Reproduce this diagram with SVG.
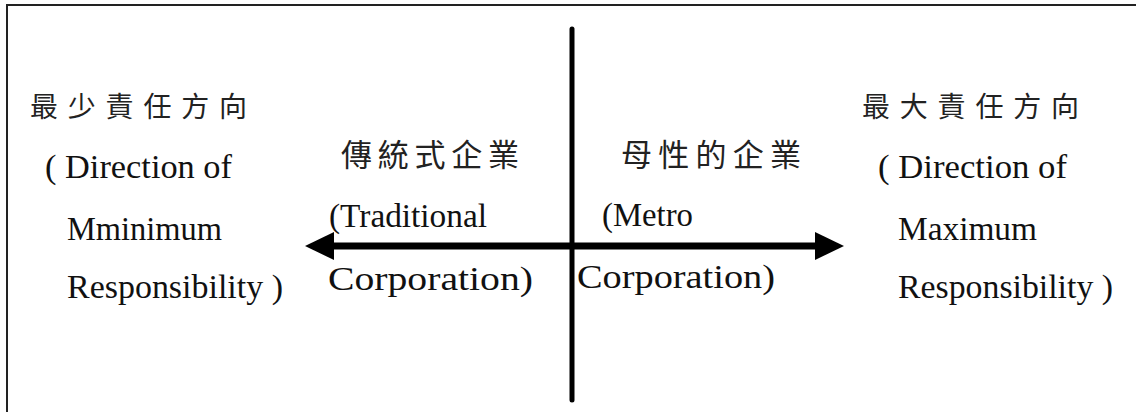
<svg xmlns="http://www.w3.org/2000/svg" width="1136" height="412" viewBox="0 0 1136 412">
  <style>
    .cjk { font-family: "Noto Sans CJK TC", "Noto Sans CJK SC", sans-serif; fill: #222; }
    .en { font-family: "Liberation Serif", "Times New Roman", serif; font-size: 34px; fill: #111; }
    .axis { stroke: #000; fill: none; }
    .head { fill: #000; }
  </style>
  <rect x="0" y="0" width="1136" height="412" fill="#fff"/>
  <path d="M7,414 V5 H1140" fill="none" stroke="#222" stroke-width="2"/>

  <g id="connectors">
    <line class="axis" x1="572" y1="29" x2="572" y2="400" stroke-width="5" stroke-linecap="round"/>
    <line class="axis" x1="330" y1="246" x2="818" y2="246" stroke-width="7"/>
    <polygon class="head" points="305,246 334,232 334,260"/>
    <polygon class="head" points="844,246 815,232 815,260"/>
  </g>

  <g id="min-direction">
    <text class="cjk" font-size="28" x="30 67.8 105.6 143.4 181.2 219" y="117">最少責任方向</text>
    <text class="en" x="45" y="178" textLength="187" lengthAdjust="spacingAndGlyphs">( Direction of</text>
    <text class="en" x="67" y="240" textLength="155" lengthAdjust="spacingAndGlyphs">Mminimum</text>
    <text class="en" x="67" y="298" textLength="216" lengthAdjust="spacingAndGlyphs">Responsibility )</text>
  </g>

  <g id="traditional">
    <text class="cjk" font-size="31" x="341 377.75 414.5 451.25 488" y="166">傳統式企業</text>
    <text class="en" x="329" y="227" textLength="158" lengthAdjust="spacingAndGlyphs">(Traditional</text>
    <text class="en" x="328" y="290" textLength="205" lengthAdjust="spacingAndGlyphs">Corporation)</text>
  </g>

  <g id="metro">
    <text class="cjk" font-size="31" x="621 658.25 695.5 732.75 770" y="166">母性的企業</text>
    <text class="en" x="602" y="226" textLength="91" lengthAdjust="spacingAndGlyphs">(Metro</text>
    <text class="en" x="577" y="288" textLength="198" lengthAdjust="spacingAndGlyphs">Corporation)</text>
  </g>

  <g id="max-direction">
    <text class="cjk" font-size="28" x="862 899.8 937.6 975.4 1013.2 1051" y="117">最大責任方向</text>
    <text class="en" x="878" y="178" textLength="189" lengthAdjust="spacingAndGlyphs">( Direction of</text>
    <text class="en" x="898" y="240" textLength="139" lengthAdjust="spacingAndGlyphs">Maximum</text>
    <text class="en" x="898" y="298" textLength="215" lengthAdjust="spacingAndGlyphs">Responsibility )</text>
  </g>
</svg>
